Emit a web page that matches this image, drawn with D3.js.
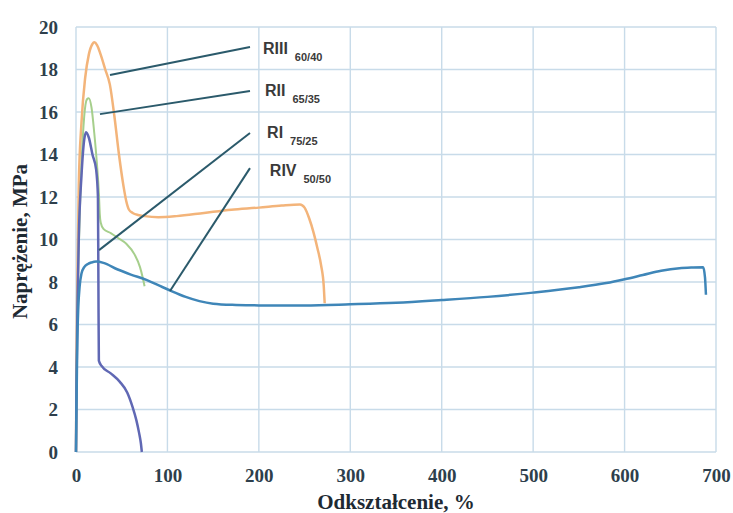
<!DOCTYPE html>
<html><head><meta charset="utf-8">
<script src="https://cdn.jsdelivr.net/npm/d3@7"></script>
<style>body{margin:0;background:#fff;}svg{display:block;}</style>
</head><body>
<svg id="c" width="733" height="513"></svg>
<script>
const xTicks = [0,100,200,300,400,500,600,700];
const yTicks = [0,2,4,6,8,10,12,14,16,18,20];

const riX = [0,0.5,1.5,3,6,9,11,14,18,22,24,24.5,25,28,38,48,56,62,66,69,71,72];
const riY = [0,3,6.5,10,13,14.7,15.05,14.8,14.0,13.3,12,8,4.3,4.05,3.7,3.3,2.8,2.1,1.5,0.9,0.4,0];

const riiX = [0,0.5,1.5,3,6,9,12,14,17,20,23,25,26,27,30,38,46,55,64,70,73,75];
const riiY = [0,3,6.5,9.5,13.5,15.8,16.6,16.65,16.2,15,13.5,12.2,11.2,10.8,10.5,10.3,10.07,9.8,9.3,8.7,8.2,7.8];

const riiiX = [0,0.5,1.5,3,6,10,14,18,20,23,27,32,37,42,47,52,55,58,62,68,75,90,110,140,170,200,225,245,250,255,260,264,268,271,272];
const riiiY = [0,4,8,12.5,15.5,17.6,18.7,19.2,19.28,19.15,18.7,18,17.3,15.8,14,12.5,11.8,11.4,11.25,11.15,11.1,11.05,11.1,11.25,11.4,11.5,11.6,11.65,11.5,11.0,10.3,9.6,8.8,7.8,7.0];

const rivX = [0,0.5,1,1.5,2.5,4,6,9,13,17,22,30,45,60,77,90,103,120,135,150,175,200,250,300,350,400,450,500,550,580,600,620,640,660,675,686,688,689];
const rivY = [0,2,3.8,5.3,6.8,7.8,8.4,8.7,8.85,8.92,8.96,8.9,8.6,8.35,8.1,7.85,7.6,7.3,7.1,6.98,6.92,6.9,6.9,6.95,7.02,7.15,7.3,7.5,7.75,7.95,8.13,8.33,8.53,8.65,8.68,8.69,8.2,7.4];

const seriesNames = ["RIII","RII","RI","RIV"];
const seriesSubs = ["60/40","65/35","75/25","50/50"];
// leader line endpoints [x1,y1,x2,y2] in data units and label anchors [x,y]
const leaderPts = [[37.2,17.74,190.3,19.06],[26.2,15.9,190.3,16.99],[25.2,9.5,190.3,15.01],[102.8,7.58,190.3,13.36]];
const labelPos = [[204.5,18.73],[206.7,16.75],[209,14.78],[212,12.99]];

const colors = {RIII:"#f3b47a", RII:"#a6cf8c", RI:"#6068b4", RIV:"#3f86b8"};

const svg = d3.select("#c");
const L=76, R=716, T=27, B=452;
const x = d3.scaleLinear().domain([0,700]).range([L,R]);
const y = d3.scaleLinear().domain([0,20]).range([B,T]);

// grid
const grid = svg.append("g");
grid.selectAll("line.v").data(xTicks).join("line")
  .attr("x1",d=>x(d)).attr("x2",d=>x(d)).attr("y1",T).attr("y2",B)
  .attr("stroke","#c8dbe9").attr("stroke-width",1.4);
grid.selectAll("line.h").data(yTicks).join("line")
  .attr("x1",L).attr("x2",R).attr("y1",d=>y(d)).attr("y2",d=>y(d))
  .attr("stroke","#c8dbe9").attr("stroke-width",1.4);

// axes
const xAxis = svg.append("g").attr("transform",`translate(0,${B})`)
  .call(d3.axisBottom(x).tickValues(xTicks).tickSize(0).tickPadding(17));
const yAxis = svg.append("g").attr("transform",`translate(${L},0)`)
  .call(d3.axisLeft(y).tickValues(yTicks).tickSize(0).tickPadding(18));
[xAxis,yAxis].forEach(a=>{
  a.select(".domain").remove();
  a.selectAll("text").attr("font-family","'Liberation Serif', serif").attr("font-size",19)
   .attr("font-weight","bold").attr("fill","#2e3f4c");
});

// curves
const line = d3.line().x(d=>x(d[0])).y(d=>y(d[1])).curve(d3.curveMonotoneX);
const data = {
  RIII: riiiX.map((v,i)=>[v,riiiY[i]]),
  RII: riiX.map((v,i)=>[v,riiY[i]]),
  RI: riX.map((v,i)=>[v,riY[i]]),
  RIV: rivX.map((v,i)=>[v,rivY[i]])
};
["RIII","RII","RI","RIV"].forEach(k=>{
  svg.append("path").datum(data[k]).attr("d",line).attr("fill","none")
    .attr("stroke",colors[k]).attr("stroke-width",k==="RII"?2:2.5)
    .attr("stroke-linejoin","round");
});

// leaders & labels
svg.append("g").selectAll("line").data(leaderPts).join("line")
  .attr("x1",d=>x(d[0])).attr("y1",d=>y(d[1])).attr("x2",d=>x(d[2])).attr("y2",d=>y(d[3]))
  .attr("stroke","#2b5a6b").attr("stroke-width",2);
const lab = svg.append("g").selectAll("text").data(seriesNames).join("text")
  .attr("x",(d,i)=>x(labelPos[i][0])).attr("y",(d,i)=>y(labelPos[i][1]))
  .attr("font-family","'Liberation Sans', Arial, sans-serif").attr("font-weight","bold")
  .attr("font-size",16).attr("fill","#3a3a3a");
lab.append("tspan").text(d=>d);
lab.append("tspan").attr("dx",7).attr("dy",7).attr("font-size",11).text((d,i)=>seriesSubs[i]);

// titles
svg.append("text").attr("x",(L+R)/2).attr("y",509).attr("text-anchor","middle")
  .attr("font-family","'Liberation Serif', serif").attr("font-weight","bold").attr("font-size",21)
  .attr("fill","#1e2a33").text("Odkształcenie, %");
svg.append("text").attr("transform",`translate(27,${(T+B)/2+2}) rotate(-90)`).attr("text-anchor","middle")
  .attr("font-family","'Liberation Serif', serif").attr("font-weight","bold").attr("font-size",21)
  .attr("fill","#1e2a33").text("Naprężenie, MPa");
</script>
</body></html>
